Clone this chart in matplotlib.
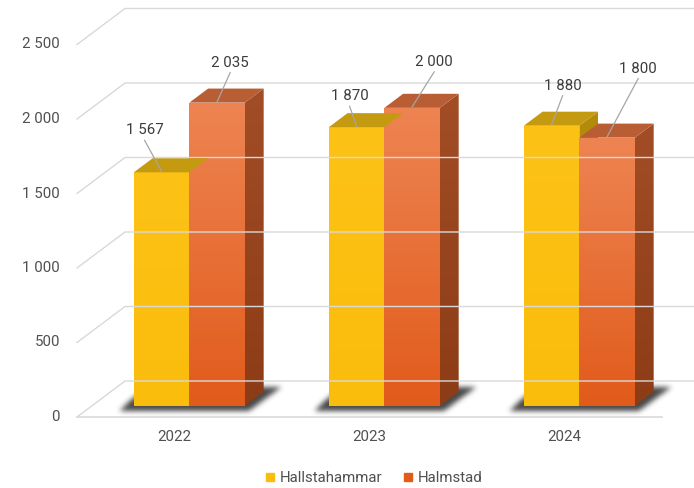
import numpy as np
import matplotlib
matplotlib.use("Agg")
import matplotlib.pyplot as plt
from matplotlib.patches import Polygon
from matplotlib.path import Path
from matplotlib.lines import Line2D
from matplotlib.transforms import IdentityTransform

years = ["2022", "2023", "2024"]
hallstahammar = [1567, 1870, 1880]
halmstad = [2035, 2000, 1800]
series_names = ["Hallstahammar", "Halmstad"]
y_ticks = [0, 500, 1000, 1500, 2000, 2500]

plt.rcParams["font.family"] = ["Roboto", "DejaVu Sans"]
plt.rcParams["font.size"] = 10.8

DPI = 100
fig = plt.figure(figsize=(6.94, 4.88), dpi=DPI)
fig.patch.set_facecolor("white")
ax = fig.add_axes([77 / 694, 71 / 488, 585 / 694, 372.5 / 488])
ax.set_xlim(-0.5, 2.5)
ax.set_ylim(0, 2500)
ax.set_autoscale_on(False)
ax.axis("off")

# depth of the 3d box in pixels, and where the bars sit inside it
DX, DY = 48, 36
F_FRONT, F_BACK = 0.31, 0.70
BAR_W = 0.285

GRID = "#d9d9d9"
TEXT = "#505050"
LABEL = "#3c3c3c"

faces = {
    "Hallstahammar": dict(front=("#fcc216", "#fbbd0c"), top="#c49a10",
                          side=("#b48c0a", "#a88208")),
    "Halmstad": dict(front=("#ee8452", "#e15b1b"), top="#b95d34",
                     side=("#a24d26", "#8c3c16")),
}


def fmt(v):
    return f"{v:,}".replace(",", " ")


def proj(x, y, f=0.0):
    px, py = ax.transData.transform((x, y))
    return np.array([px + f * DX, py + f * DY])


def line(pts, **kw):
    pts = np.array(pts)
    fig.add_artist(Line2D(pts[:, 0], pts[:, 1], transform=IdentityTransform(), **kw))


def poly(pts, color, z):
    fig.add_artist(Polygon(np.array(pts), closed=True, facecolor=color, edgecolor="none",
                           transform=IdentityTransform(), zorder=z))


def gradient_quad(pts, c_top, c_bot, z):
    pts = np.array(pts)
    x0, x1 = pts[:, 0].min(), pts[:, 0].max()
    y0, y1 = pts[:, 1].min(), pts[:, 1].max()
    top = np.array(matplotlib.colors.to_rgb(c_top))
    bot = np.array(matplotlib.colors.to_rgb(c_bot))
    t = np.linspace(0, 1, 128)[:, None]
    img = (top * (1 - t) + bot * t)[:, None, :]
    im = ax.imshow(img, extent=(x0, x1, y0, y1), origin="upper", aspect="auto",
                   transform=IdentityTransform(), interpolation="bilinear", zorder=z)
    clip = Polygon(pts, closed=True, transform=IdentityTransform())
    im.set_clip_path(clip)


# walls and floor
for v in y_ticks:
    line([proj(-0.5, v), proj(-0.5, v, 1), proj(2.5, v, 1)], color=GRID, lw=1.0, zorder=1)
line([proj(-0.5, 0), proj(2.5, 0)], color=GRID, lw=1.2, zorder=1)

for v in y_ticks:
    ax.annotate(fmt(v), xy=(-0.5, v), xytext=(-17, 0), textcoords="offset pixels",
                ha="right", va="center", color=TEXT, annotation_clip=False)

for i, yr in enumerate(years):
    ax.annotate(yr, xy=(i, 0), xytext=(0, -20), textcoords="offset pixels",
                ha="center", va="center", color=TEXT, annotation_clip=False)

# soft floor shadows under each pair of bars
W, H = fig.canvas.get_width_height()
gx, gy = np.meshgrid(np.arange(W) + 0.5, np.arange(H) + 0.5)
shadow = np.zeros((H, W))
for i in range(len(years)):
    x0, x1 = i - BAR_W, i + BAR_W
    pts = [proj(x0, 0, F_FRONT) + (-14, -5), proj(x1, 0, F_FRONT) + (4, -5),
           proj(x1, 0, F_BACK) + (18, 5), proj(x0, 0, F_BACK) + (-10, 3)]
    inside = Path(pts).contains_points(np.c_[gx.ravel(), gy.ravel()]).reshape(H, W)
    shadow = np.maximum(shadow, inside.astype(float))
k = np.exp(-0.5 * (np.arange(-8, 9) / 2.6) ** 2)
k /= k.sum()
shadow = np.apply_along_axis(lambda r: np.convolve(r, k, mode="same"), 1, shadow)
shadow = np.apply_along_axis(lambda c: np.convolve(c, k, mode="same"), 0, shadow)
rgba = np.zeros((H, W, 4))
rgba[..., :3] = 0.2
rgba[..., 3] = np.clip(shadow * 1.0, 0, 1) * 0.9
ax.imshow(rgba, extent=(0, W, 0, H), origin="lower", aspect="auto",
          transform=IdentityTransform(), zorder=2, clip_on=False)

# bars with value labels and leader lines
label_offsets = [[(-17, 42), (13, 40)], [(-7, 31), (22, 46)], [(11, 40), (31, 69)]]
for i in range(len(years)):
    for s, (name, vals) in enumerate(zip(series_names, [hallstahammar, halmstad])):
        h = vals[i]
        st = faces[name]
        x0 = i - BAR_W + s * BAR_W
        x1 = x0 + BAR_W
        z = 3 + s
        side = [proj(x1, 0, F_FRONT), proj(x1, 0, F_BACK), proj(x1, h, F_BACK), proj(x1, h, F_FRONT)]
        gradient_quad(side, st["side"][0], st["side"][1], z)
        top = [proj(x0, h, F_FRONT), proj(x1, h, F_FRONT), proj(x1, h, F_BACK), proj(x0, h, F_BACK)]
        poly(top, st["top"], z)
        fl, fr = proj(x0, 0, F_FRONT), proj(x1, h, F_FRONT)
        gradient_quad([fl, (fr[0], fl[1]), fr, (fl[0], fr[1])], st["front"][0], st["front"][1], z)

        tip = proj((x0 + x1) / 2, h, F_FRONT)
        lab = tip + np.array(label_offsets[i][s])
        line([lab + (0, -10), tip + (0, 1)], color="#a6a6a6", lw=0.9, zorder=10)
        fig.text(lab[0], lab[1], fmt(h), transform=IdentityTransform(),
                 ha="center", va="center", color=LABEL, zorder=10)

handles = [Line2D([], [], marker="s", ls="none", markersize=5.5, color=faces[n]["front"][1])
           for n in series_names]
fig.legend(handles, series_names, loc="center", bbox_to_anchor=(374 / 694, 10 / 488),
           ncol=2, frameon=False, handlelength=0.6, handletextpad=0.35, columnspacing=1.4,
           labelcolor=TEXT)

fig.savefig("out.png", dpi=DPI, facecolor="white")
